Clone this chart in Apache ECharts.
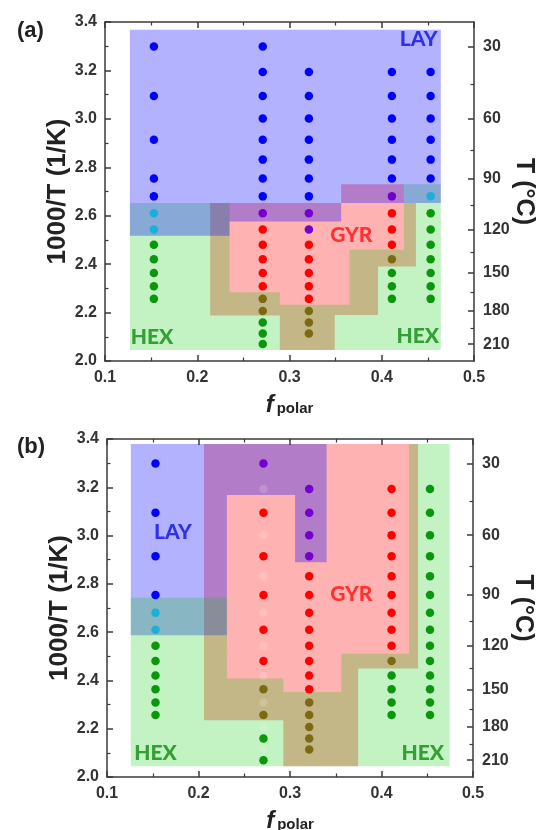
<!DOCTYPE html>
<html>
<head>
<meta charset="utf-8">
<script src="https://cdn.jsdelivr.net/npm/echarts@6/dist/echarts.min.js"></script>
<style>
  html, body { margin: 0; padding: 0; background: #fff; }
  #chart { width: 536px; height: 830px; }
</style>
</head>
<body>
<div id="chart"></div>
<script>
// right axis temperatures (°C)
var tLabels = [30, 60, 90, 120, 150, 180, 210];
var tMinor = [45, 75, 105, 135, 165, 195];

// measured points: [f_polar, [temperatures in °C]]
var aBlue = [[0.153, [30, 50, 70, 90, 100]], [0.271, [30, 40, 50, 60, 70, 80, 90, 100]],
  [0.321, [40, 50, 60, 70, 80, 90, 100]], [0.411, [40, 50, 60, 70, 80, 90]], [0.453, [40, 50, 60, 70, 80, 90]]];
var aCyan = [[0.153, [110, 120]], [0.453, [100]]];
var aPurple = [[0.271, [110]], [0.321, [110, 120]], [0.411, [100]]];
var aRed = [[0.271, [120, 130, 140, 150, 160]], [0.321, [130, 140, 150, 160, 170]], [0.411, [110, 120, 130]]];
var aOlive = [[0.271, [170, 180]], [0.321, [180, 190, 200]], [0.411, [140]]];
var aGreen = [[0.153, [130, 140, 150, 160, 170]], [0.271, [190, 200, 210]], [0.411, [150, 160, 170]],
  [0.453, [110, 120, 130, 140, 150, 160, 170]]];

var bBlue = [[0.153, [30, 50, 70, 90]]];
var bCyan = [[0.153, [100, 110]]];
var bPurple = [[0.271, [30]], [0.321, [40, 50, 60, 70]]];
var bRed = [[0.271, [50, 70, 90, 110, 130]], [0.321, [80, 90, 100, 110, 120, 130, 140, 150]],
  [0.411, [40, 50, 60, 70, 80, 90, 100, 110, 120]]];
var bOlive = [[0.271, [150, 170]], [0.321, [160, 170, 180, 190, 200]], [0.411, [130]]];
var bGreen = [[0.153, [120, 130, 140, 150, 160, 170]], [0.271, [190, 210]], [0.411, [140, 150, 160, 170]],
  [0.453, [40, 50, 60, 70, 80, 90, 100, 110, 120, 130, 140, 150, 160, 170]]];
var bGhost = [[0.271, [40, 60, 80, 100, 120, 140, 160, 180, 200]]];

// phase regions, outlines in (f_polar, 1000/T)
var aLay = [[0.127, 3.368], [0.464, 3.368], [0.464, 2.652], [0.356, 2.652], [0.356, 2.576],
  [0.235, 2.576], [0.235, 2.517], [0.127, 2.517]];
var aGyr = [[0.214, 2.188], [0.2895, 2.188], [0.2895, 2.045], [0.349, 2.045], [0.349, 2.19],
  [0.396, 2.19], [0.396, 2.39], [0.437, 2.39], [0.437, 2.652], [0.424, 2.652], [0.424, 2.73],
  [0.356, 2.73], [0.356, 2.652], [0.214, 2.652]];
var aHex = [[0.127, 2.045], [0.464, 2.045], [0.464, 2.73], [0.424, 2.73], [0.424, 2.459],
  [0.365, 2.459], [0.365, 2.232], [0.2895, 2.232], [0.2895, 2.284], [0.235, 2.284],
  [0.235, 2.652], [0.127, 2.652]];

var bLay = [[0.126, 3.379], [0.340, 3.379], [0.340, 2.889], [0.3055, 2.889], [0.3055, 3.168],
  [0.231, 3.168], [0.231, 2.587], [0.126, 2.587]];
var bGyr = [[0.206, 3.379], [0.440, 3.379], [0.440, 2.449], [0.3745, 2.449], [0.3745, 2.045],
  [0.2927, 2.045], [0.2927, 2.235], [0.206, 2.235]];
var bHex = [[0.126, 2.045], [0.4745, 2.045], [0.4745, 3.379], [0.4302, 3.379], [0.4302, 2.511],
  [0.356, 2.511], [0.356, 2.352], [0.2927, 2.352], [0.2927, 2.408], [0.231, 2.408],
  [0.231, 2.742], [0.126, 2.742]];

// phase names placed in the plot
var aNames = [['LAY', 0.440, 3.327], ['GYR', 0.367, 2.521], ['HEX', 0.151, 2.098], ['HEX', 0.439, 2.102]];
var bNames = [['LAY', 0.172, 3.012], ['GYR', 0.367, 2.759], ['HEX', 0.153, 2.100], ['HEX', 0.445, 2.100]];

var nameColor = { LAY: '#0f0fe0', GYR: '#ff1010', HEX: '#108a10' };
var font = "'Liberation Sans', Arial, sans-serif";
var axisColor = '#3a3a3a';

function invT(t) { return 1000 / (t + 273.15); }

function flat(cols) {
  var out = [];
  cols.forEach(function (c) {
    c[1].forEach(function (t) { out.push([c[0], invT(t)]); });
  });
  return out;
}

function region(poly, fill, i) {
  return {
    type: 'custom', xAxisIndex: i * 2, yAxisIndex: i * 3, silent: true, z: 1,
    data: [[poly[0][0], poly[0][1]]],
    renderItem: function (params, api) {
      return {
        type: 'polygon',
        shape: { points: poly.map(function (p) { return api.coord(p); }) },
        style: { fill: fill }
      };
    }
  };
}

function dots(cols, color, i) {
  return {
    type: 'scatter', xAxisIndex: i * 2, yAxisIndex: i * 3, z: 5, silent: true,
    symbolSize: 8.5, itemStyle: { color: color, opacity: 1 },
    data: flat(cols)
  };
}

function names(list, i) {
  return {
    type: 'scatter', xAxisIndex: i * 2, yAxisIndex: i * 3, z: 6, silent: true,
    symbolSize: 0,
    data: list.map(function (n) {
      return {
        value: [n[1], n[2]],
        label: {
          show: true, position: 'inside', formatter: n[0],
          color: nameColor[n[0]], fontSize: 21, fontWeight: 900, fontFamily: 'Lato, sans-serif'
        }
      };
    })
  };
}

function xAxes(i) {
  var base = {
    type: 'value', gridIndex: i, min: 0.1, max: 0.5, interval: 0.1,
    splitLine: { show: false },
    axisLine: { show: true, lineStyle: { color: axisColor, width: 1.5 } },
    axisTick: { show: true, inside: true, length: 6, lineStyle: { color: axisColor, width: 1.5 } },
    minorTick: { show: true, splitNumber: 2, length: 3.5, lineStyle: { color: axisColor, width: 1.2 } },
    minorSplitLine: { show: false }
  };
  var bottom = Object.assign({}, base, {
    position: 'bottom',
    axisLabel: {
      color: '#333', fontSize: 16, fontWeight: 'bold', fontFamily: font, margin: 9,
      formatter: function (v) { return v.toFixed(1); }
    },
    name: '{f|f}{p|polar}', nameLocation: 'middle', nameGap: 32, nameMoveOverlap: false,
    nameTextStyle: {
      rich: {
        f: { fontSize: 24, fontWeight: 'bold', fontStyle: 'italic', fontFamily: font, color: '#222' },
        p: { fontSize: 15, fontWeight: 'bold', fontFamily: font, color: '#222', padding: [8, 0, 0, 3] }
      }
    }
  });
  var top = Object.assign({}, base, { position: 'top', axisLabel: { show: false } });
  return [bottom, top];
}

function yAxes(i) {
  var line = { show: true, lineStyle: { color: axisColor, width: 1.5 } };
  var left = {
    type: 'value', gridIndex: i, min: 2.0, max: 3.4, interval: 0.2, position: 'left',
    splitLine: { show: false }, minorSplitLine: { show: false },
    axisLine: line,
    axisTick: { show: true, inside: true, length: 6, lineStyle: { color: axisColor, width: 1.5 } },
    minorTick: { show: true, splitNumber: 2, length: 3.5, lineStyle: { color: axisColor, width: 1.2 } },
    axisLabel: {
      color: '#333', fontSize: 16, fontWeight: 'bold', fontFamily: font, margin: 8,
      formatter: function (v) { return v.toFixed(1); }
    },
    name: '1000/T (1/K)', nameLocation: 'middle', nameGap: 34, nameRotate: 90, nameMoveOverlap: false,
    nameTextStyle: { fontSize: 26, fontWeight: 'bold', fontFamily: font, color: '#222' }
  };
  var right = {
    type: 'value', gridIndex: i, min: 2.0, max: 3.4, position: 'right',
    splitLine: { show: false },
    axisLine: line,
    axisTick: {
      show: true, inside: true, length: 6, lineStyle: { color: axisColor, width: 1.5 },
      customValues: tLabels.map(invT)
    },
    axisLabel: {
      color: '#333', fontSize: 16, fontWeight: 'bold', fontFamily: font, margin: 9,
      customValues: tLabels.map(invT),
      formatter: function (v) { return String(Math.round(1000 / v - 273.15)); }
    },
    name: 'T (°C)', nameLocation: 'middle', nameGap: 37, nameRotate: -90, nameMoveOverlap: false,
    nameTextStyle: { fontSize: 25, fontWeight: 'bold', fontFamily: font, color: '#222' }
  };
  var rightMinor = {
    type: 'value', gridIndex: i, min: 2.0, max: 3.4, position: 'right',
    splitLine: { show: false },
    axisLine: { show: false },
    axisTick: {
      show: true, inside: true, length: 3.5, lineStyle: { color: axisColor, width: 1.2 },
      customValues: tMinor.map(invT)
    },
    axisLabel: { show: false, customValues: tMinor.map(invT) }
  };
  return [left, right, rightMinor];
}

var chart = echarts.init(document.getElementById('chart'), null, { renderer: 'canvas' });

var option = {
  backgroundColor: '#fff',
  animation: false,
  title: [
    { text: '(a)', left: 12, top: 15, textStyle: { fontSize: 22, fontWeight: 'bold', fontFamily: font, color: '#222' } },
    { text: '(b)', left: 12, top: 431, textStyle: { fontSize: 22, fontWeight: 'bold', fontFamily: font, color: '#222' } }
  ],
  grid: [
    { left: 105, top: 22, width: 369, height: 339, containLabel: false, outerBoundsMode: 'none' },
    { left: 107, top: 439, width: 366, height: 338, containLabel: false, outerBoundsMode: 'none' }
  ],
  xAxis: xAxes(0).concat(xAxes(1)),
  yAxis: yAxes(0).concat(yAxes(1)),
  series: [
    // panel (a): GYR, HEX, then LAY on top
    region(aGyr, 'rgba(255,0,0,0.3)', 0),
    region(aHex, 'rgba(0,200,0,0.235)', 0),
    region(aLay, 'rgba(0,0,255,0.3)', 0),
    // panel (b): GYR, LAY, then HEX on top
    region(bGyr, 'rgba(255,0,0,0.3)', 1),
    region(bLay, 'rgba(0,0,255,0.3)', 1),
    region(bHex, 'rgba(0,200,0,0.235)', 1),

    dots(aBlue, '#0000ff', 0),
    dots(aCyan, '#1cb0d8', 0),
    dots(aPurple, '#7400cc', 0),
    dots(aRed, '#ff0000', 0),
    dots(aOlive, '#7b6a12', 0),
    dots(aGreen, '#0b970b', 0),

    dots(bBlue, '#0000ff', 1),
    dots(bCyan, '#1cb0d8', 1),
    dots(bPurple, '#7400cc', 1),
    dots(bRed, '#ff0000', 1),
    dots(bOlive, '#7b6a12', 1),
    dots(bGreen, '#0b970b', 1),
    dots(bGhost, 'rgba(255,255,255,0.16)', 1),

    names(aNames, 0),
    names(bNames, 1)
  ]
};

chart.setOption(option);
</script>
</body>
</html>
